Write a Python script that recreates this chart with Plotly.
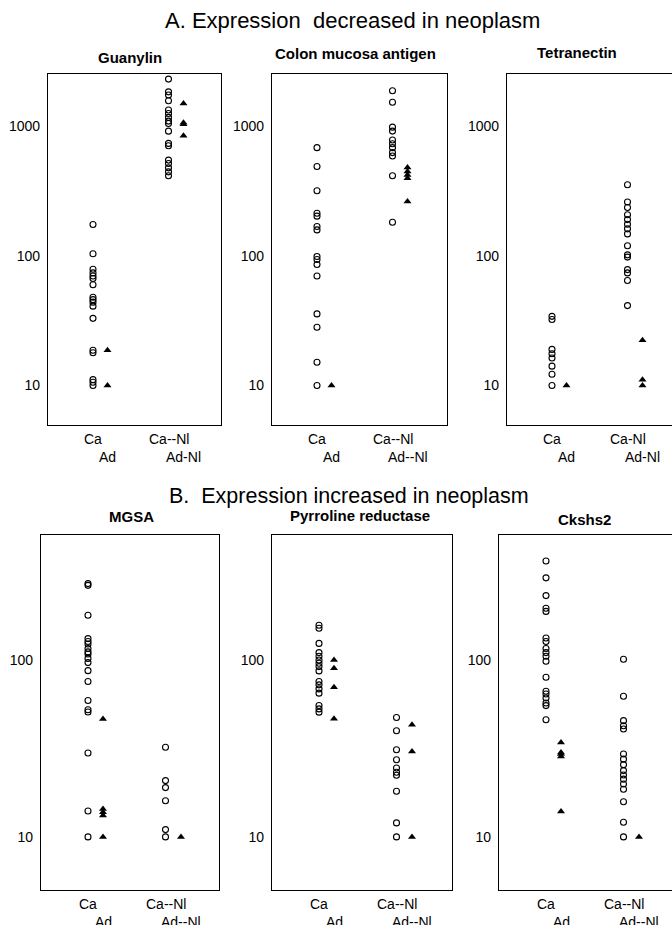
import plotly.graph_objects as go

# ---------------- data ----------------
guanylin_ca = [175, 104, 79, 74, 70, 67, 60, 48, 46, 44, 41, 33, 18.7, 17.9, 11.1, 10.6, 10]
guanylin_ad = [18.7, 10]
guanylin_canl = [2320, 1850, 1750, 1580, 1340, 1260, 1175, 1100, 1055, 920, 740, 710, 550, 518, 479, 446, 416]
guanylin_adnl = [1506, 1070, 1040, 847]
guanylin_labels = ["Ca", "Ad", "Ca--Nl", "Ad-Nl"]

cma_ca = [686, 491, 319, 214, 203, 169, 159, 99, 94, 86, 70, 35.7, 28.2, 15.1, 10]
cma_ad = [10]
cma_canl = [1888, 1538, 988, 921, 785, 736, 686, 628, 592, 416, 182]
cma_adnl = [482, 449, 421, 399, 263]
cma_labels = ["Ca", "Ad", "Ca--Nl", "Ad--Nl"]

tetra_ca = [34.2, 32.3, 19.0, 17.6, 16.3, 14.1, 12.2, 10]
tetra_ad = [10]
tetra_canl = [355, 261, 237, 208, 191, 176, 162, 148, 120, 102, 98, 78.5, 74, 64.6, 41.4]
tetra_adnl = [22.4, 11.1, 10]
tetra_labels = ["Ca", "Ad", "Ca-Nl", "Ad-Nl"]

mgsa_ca = [270, 264, 179, 132, 127, 123, 116, 111, 108, 102, 96.6, 87, 75.5, 59, 52.3, 50.8, 29.8, 14.0, 10]
mgsa_ad = [46.4, 14.4, 13.8, 13.2, 10]
mgsa_canl = [32.1, 20.8, 19.0, 16.0, 11.0, 10]
mgsa_adnl = [10]
mgsa_labels = ["Ca", "Ad", "Ca--Nl", "Ad--Nl"]

pyr_ca = [157, 151, 124, 110, 105, 100, 95.8, 91.7, 86.7, 75.5, 72.3, 68.6, 64.9, 55.3, 52.9, 50.7]
pyr_ad = [100, 89.8, 70.2, 46.5]
pyr_canl = [47.3, 39.8, 31.1, 27.3, 24.5, 23.2, 22.3, 18.1, 12.0, 10]
pyr_adnl = [43, 30.4, 10]
pyr_labels = ["Ca", "Ad", "Ca--Nl", "Ad--Nl"]

cks_ca = [362, 291, 231, 196, 188, 133, 127, 116, 110, 105, 98.3, 79.8, 66.5, 64.2, 61, 57.1, 55.2, 45.9]
cks_ad = [34.2, 30, 29.4, 28.5, 13.9]
cks_canl = [101, 62.3, 45.4, 42.5, 40.7, 29.4, 27.5, 25.6, 23.7, 22.4, 21.2, 19.9, 18.6, 15.8, 12.1, 10]
cks_adnl = [10]
cks_labels = ["Ca", "Ad", "Ca--Nl", "Ad--Nl"]

titles = ["Guanylin", "Colon mucosa antigen", "Tetranectin",
          "MGSA", "Pyrroline reductase", "Ckshs2"]
section_titles = ["A. Expression  decreased in neoplasm",
                  "B.  Expression increased in neoplasm"]
y_tick_values = [10, 100, 1000]
y_tick_text = ["10", "100", "1000"]

panels = [
    (guanylin_ca, guanylin_ad, guanylin_canl, guanylin_adnl, guanylin_labels),
    (cma_ca, cma_ad, cma_canl, cma_adnl, cma_labels),
    (tetra_ca, tetra_ad, tetra_canl, tetra_adnl, tetra_labels),
    (mgsa_ca, mgsa_ad, mgsa_canl, mgsa_adnl, mgsa_labels),
    (pyr_ca, pyr_ad, pyr_canl, pyr_adnl, pyr_labels),
    (cks_ca, cks_ad, cks_canl, cks_adnl, cks_labels),
]

# ---------------- layout geometry (pixels in a 672x925 page) ----------------
W, H = 672, 925
# (left, right, top, bottom) of each plotting box
boxes = [
    (48, 221, 74, 425), (272, 447, 74, 425), (507, 672, 74, 425),
    (41, 219, 535, 890), (272, 452, 535, 890), (499, 672, 535, 890),
]
# x positions of the four columns, in px from the box's left edge
col_pos_top = [45, 59.5, 120.5, 135.5]
col_pos_bot = [47, 62, 124.5, 140]
yrange_top = [0.695, 3.405]
yrange_bot = [0.700, 2.706]
title_pos = [(130, 57), (355, 54), (577, 53), (131, 516), (360, 515), (584, 519)]

FONT = "Liberation Sans, Arial, Helvetica, sans-serif"

fig = go.Figure()
layout = dict(
    width=W, height=H, margin=dict(l=0, r=0, t=0, b=0),
    paper_bgcolor="white", plot_bgcolor="white", showlegend=False,
    font=dict(family=FONT, color="black", size=14),
)
annotations = []

for i, (ca, ad, canl, adnl, labels) in enumerate(panels):
    k = i + 1
    xa = "x" if k == 1 else f"x{k}"
    ya = "y" if k == 1 else f"y{k}"
    left, right, top, bottom = boxes[i]
    pos = col_pos_top if i < 3 else col_pos_bot
    yr = yrange_top if i < 3 else yrange_bot
    open_side = i in (2, 5)

    circ = dict(symbol="circle-open", size=6, color="black", line=dict(width=1.1, color="black"))
    tri = dict(symbol="triangle-up", size=7, color="black", line=dict(width=0))
    fig.add_trace(go.Scatter(x=[pos[0]] * len(ca), y=ca, mode="markers",
                             xaxis=xa, yaxis=ya, marker=circ))
    fig.add_trace(go.Scatter(x=[pos[2]] * len(canl), y=canl, mode="markers",
                             xaxis=xa, yaxis=ya, marker=circ))
    fig.add_trace(go.Scatter(x=[pos[1]] * len(ad), y=ad, mode="markers",
                             xaxis=xa, yaxis=ya, marker=tri))
    fig.add_trace(go.Scatter(x=[pos[3]] * len(adnl), y=adnl, mode="markers",
                             xaxis=xa, yaxis=ya, marker=tri))

    xkey = "xaxis" if k == 1 else f"xaxis{k}"
    ykey = "yaxis" if k == 1 else f"yaxis{k}"
    layout[xkey] = dict(
        domain=[left / W, right / W], anchor=ya, range=[0, right - left],
        showgrid=False, zeroline=False, showticklabels=False, ticks="",
        showline=True, linecolor="black", linewidth=1.2, mirror=True, fixedrange=True)
    layout[ykey] = dict(
        domain=[1 - bottom / H, 1 - top / H], anchor=xa, type="log", range=yr,
        tickvals=y_tick_values, ticktext=y_tick_text,
        showgrid=False, zeroline=False, ticks="", ticklabelstandoff=4,
        tickfont=dict(size=14, family=FONT, color="black"),
        showline=True, linecolor="black", linewidth=1.2,
        mirror=(not open_side), fixedrange=True)

    # staggered category labels under the box
    for j, lab in enumerate(labels):
        annotations.append(dict(
            x=pos[j], y=0, xref=xa, yref=f"{ya} domain", text=lab,
            showarrow=False, xanchor="center", yanchor="middle",
            yshift=-14 if j % 2 == 0 else -32,
            font=dict(size=14, family=FONT, color="black")))

    tx, ty = title_pos[i]
    annotations.append(dict(
        x=tx / W, y=1 - ty / H, xref="paper", yref="paper",
        text=f"<b>{titles[i]}</b>", showarrow=False,
        xanchor="center", yanchor="middle",
        font=dict(size=15, family=FONT, color="black")))

annotations.append(dict(x=352 / W, y=1 - 20 / H, xref="paper", yref="paper",
                        text=section_titles[0], showarrow=False,
                        xanchor="center", yanchor="middle",
                        font=dict(size=22, family=FONT, color="black")))
annotations.append(dict(x=349 / W, y=1 - 496 / H, xref="paper", yref="paper",
                        text=section_titles[1], showarrow=False,
                        xanchor="center", yanchor="middle",
                        font=dict(size=21.5, family=FONT, color="black")))

layout["annotations"] = annotations
fig.update_layout(**layout)
fig.write_html("out.html", config={"displayModeBar": False},
               post_script="document.body.style.margin='0';")
